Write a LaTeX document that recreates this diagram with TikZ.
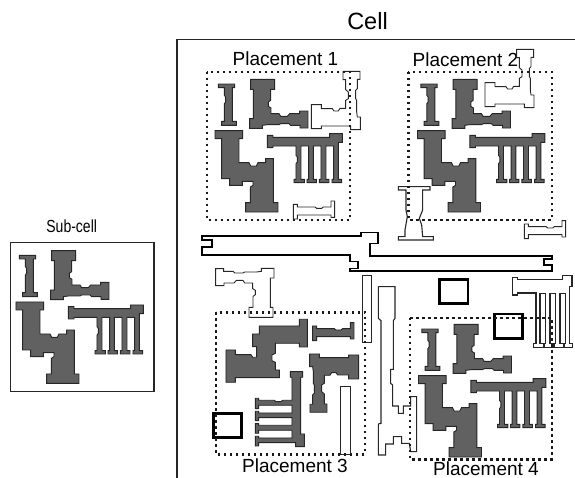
\documentclass[tikz,border=0pt]{standalone}
\usepackage{fontspec}
\setmainfont{Liberation Sans}
\newfontfamily\narrowfont[FakeStretch=0.8]{Liberation Sans}

\newcommand{\shapeI}{(58,136) -- (107,136) -- (107,147) -- (100,147) -- (100,248) -- (112,248) -- (112,260) -- (68,260) -- (68,248) -- (76,248) -- (76,195) -- (80,190) -- (80,175) -- (76,170) -- (76,147) -- (58,147) -- cycle}
\newcommand{\shapeL}{(155,122) -- (227,122) -- (227,152) -- (215,152) -- (215,185) -- (208,190) -- (208,203) -- (216,208) -- (216,225) -- (240,225) -- (245,233) -- (265,233) -- (272,225) -- (302,225) -- (302,217) -- (327,217) -- (327,268) -- (303,268) -- (303,260) -- (275,260) -- (270,255) -- (245,255) -- (240,258) -- (205,258) -- (190,260) -- (190,269) -- (152,269) -- (152,240) -- (163,240) -- (163,152) -- (155,152) -- cycle}
\newcommand{\shapeS}{(48,276) -- (131,276) -- (131,300) -- (120,300) -- (120,372) -- (150,372) -- (155,382) -- (172,382) -- (177,372) -- (200,372) -- (200,360) -- (223,360) -- (223,492) -- (237,492) -- (237,520) -- (140,520) -- (140,492) -- (154,492) -- (154,445) -- (162,440) -- (162,428) -- (130,428) -- (130,440) -- (92,440) -- (92,420) -- (68,420) -- (68,300) -- (48,300) -- cycle}
\newcommand{\shapeComb}{(205,290) -- (222,290) -- (222,296) -- (392,296) -- (392,285) -- (430,285) -- (430,311) -- (418,311) -- (418,422) -- (428,422) -- (428,432) -- (399,432) -- (399,422) -- (404,422) -- (404,322) -- (381,322) -- (381,422) -- (390,422) -- (390,432) -- (361,432) -- (361,422) -- (366,422) -- (366,322) -- (343,322) -- (343,422) -- (352,422) -- (352,432) -- (324,432) -- (324,422) -- (329,422) -- (329,322) -- (306,322) -- (306,422) -- (316,422) -- (316,432) -- (285,432) -- (285,422) -- (291,422) -- (291,375) -- (295,370) -- (295,355) -- (291,350) -- (291,322) -- (222,322) -- (222,327) -- (205,327) -- cycle}

\begin{document}
\begin{tikzpicture}[
  x=1pt, y=-1pt,
  partscale/.style={x=.3333pt, y=-.3333pt},
  frame/.style={draw=black!85, line width=1.5pt},
  gatepart/.style={draw=black!85, fill=black!62, line width=.9pt},
  outline/.style={draw=black!85, line width=.9pt},
  wirepart/.style={draw=black, line width=1.6pt},
  blockage/.style={draw=black, line width=2.6pt},
  region/.style={draw=black!90, line width=2.4pt, dash pattern=on 2.4pt off 3.6pt},
  caption/.style={anchor=base, inner sep=0pt, font=\fontsize{19}{19}\selectfont},
  pics/subcell/.style={code={
    \begin{scope}[partscale]
      \draw[gatepart] \shapeI;
      \draw[gatepart] \shapeL;
      \draw[gatepart] \shapeS;
      \draw[gatepart] \shapeComb;
    \end{scope}
  }}
]
  \useasboundingbox (0,0) rectangle (575,478);

  % sub-cell on its own
  \draw[frame] (10.7,242.7) rectangle (154,391.7);
  \pic (sub) at (0,210) {subcell};
  \node[anchor=base, inner sep=0pt, font=\narrowfont\fontsize{17.5}{17.5}\selectfont] (subcap) at (71.7,232.5) {Sub-cell};

  % cell frame
  \draw[frame] (177,478) -- (177,39.5) -- (575,39.5);
  \node[anchor=base, inner sep=0pt, font=\fontsize{23.5}{23.5}\selectfont] (cellcap) at (367.5,30) {Cell};

  % the four placements
  \pic (p1) at (199,38.7) {subcell};
  \pic (p2) at (401.5,38.7) {subcell};
  \pic[rotate=-90] (p3) at (399.3,303.3) {subcell};
  \pic (p4) at (402.5,283.7) {subcell};

  \node[caption] (cap1) at (285.5,66) {Placement 1};
  \node[caption] (cap2) at (465.5,67) {Placement 2};
  \node[caption] (cap3) at (295,472) {Placement 3};
  \node[caption] (cap4) at (486,475.5) {Placement 4};

  % other cells, outlines only
  \draw[outline, shift={(270.67,180.33)}, rotate=90, partscale] \shapeL;
  \draw[outline, shift={(444.33,158.33)}, rotate=90, partscale] \shapeL;
  \draw[outline, shift={(324.67,358)}, rotate=180, partscale] \shapeL;
  \draw[outline, shift={(380,181.7)}, rotate=-90, partscale] \shapeI;
  \draw[outline, shift={(611,201.3)}, rotate=-90, partscale] \shapeI;

  \draw[outline, line width=1.1pt, shift={(370,10)}, partscale] (85,530) -- (180,530) -- (180,540) -- (158,540) -- (158,600) -- (152,615) -- (148,625) -- (155,645) -- (158,680) -- (190,680) -- (190,690) -- (85,690) -- (85,680) -- (105,680) -- (105,660) -- (112,620) -- (108,600) -- (108,540) -- (85,540) -- cycle;

  \draw[wirepart] (201.7,236) -- (360.7,236) -- (360.7,232.7) -- (377.7,232.7) -- (377.7,243.7) -- (370,243.7) -- (370,256) -- (551.7,256) -- (551.7,259) -- (544,259) -- (544,265) -- (551.7,265) -- (551.7,271) -- (350,271) -- (350,268.5) -- (357.7,268.5) -- (357.7,261.3) -- (350,261.3) -- (350,254.7) -- (202,254.7) -- (202,247) -- (212,247) -- (212,240) -- (201.7,240) -- cycle;

  \draw[outline, line width=1.1pt, shift={(500,265)}, partscale] (38,38) -- (52,38) -- (52,43) -- (188,43) -- (188,31) -- (216,31) -- (216,65) -- (208,65) -- (208,235) -- (218,235) -- (218,247) -- (193,247) -- (193,235) -- (196,235) -- (196,86) -- (180,86) -- (180,235) -- (190,235) -- (190,247) -- (163,247) -- (163,235) -- (166,235) -- (166,86) -- (150,86) -- (150,235) -- (160,235) -- (160,247) -- (133,247) -- (133,235) -- (136,235) -- (136,86) -- (120,86) -- (120,235) -- (130,235) -- (130,247) -- (100,247) -- (100,235) -- (108,235) -- (108,84) -- (52,84) -- (52,90) -- (38,90) -- cycle;

  \draw[outline, line width=1.1pt, shift={(370,280)}, partscale] (25,20) -- (75,20) -- (75,115) -- (70,122) -- (70,268) -- (62,268) -- (62,310) -- (68,315) -- (68,378) -- (85,378) -- (85,400) -- (100,400) -- (100,378) -- (122,378) -- (122,350) -- (140,350) -- (140,515) -- (122,515) -- (118,490) -- (95,490) -- (95,470) -- (70,470) -- (70,492) -- (47,492) -- (47,525) -- (25,525) -- (25,432) -- (33,430) -- (33,122) -- (25,115) -- cycle;

  \draw[outline] (362.7,275.7) rectangle (371.7,342.3);
  \draw[outline] (340.7,386.7) rectangle (350,454.3);

  % fixed blocks
  \draw[blockage] (213.3,413.3) rectangle (241.7,437.7);
  \draw[blockage] (439.3,279.3) rectangle (468,303.3);
  \draw[blockage] (494.3,314) rectangle (522.7,338.3);

  % placement regions
  \draw[region] (206.7,72) rectangle (350,220);
  \draw[region] (408.3,72) rectangle (551.7,220);
  \draw[region] (216,312.3) rectangle (365,454.3);
  \draw[region] (410,317.7) rectangle (551.7,459.3);
\end{tikzpicture}
\end{document}
